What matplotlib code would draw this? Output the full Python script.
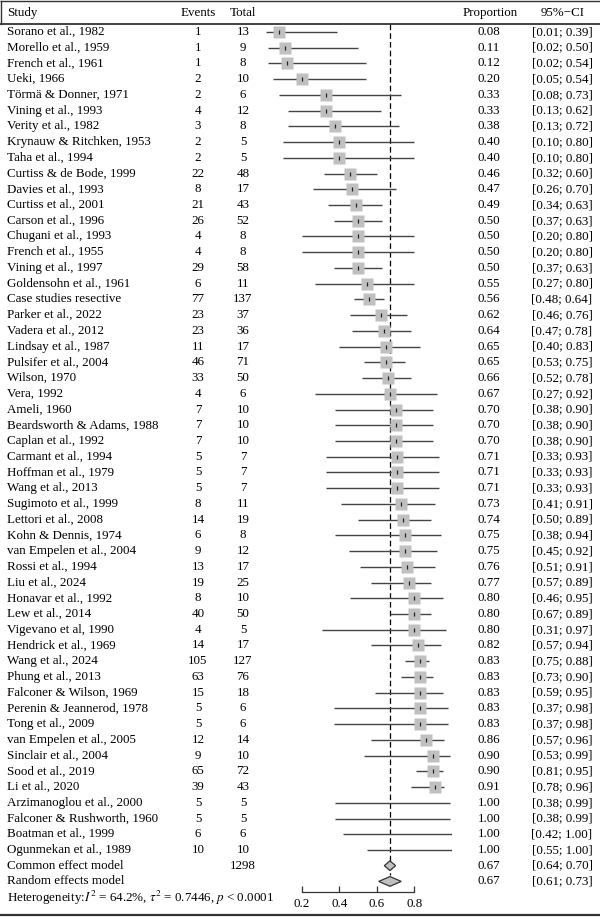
import matplotlib
matplotlib.use("Agg")
import matplotlib.pyplot as plt
from matplotlib.patches import Polygon
import matplotlib.transforms as mtransforms

plt.rcParams['font.family'] = ['Liberation Serif', 'DejaVu Serif']
plt.rcParams['mathtext.fontset'] = 'stix'

studies = ["Sorano et al., 1982", "Morello et al., 1959", "French et al., 1961", "Ueki, 1966",
           "Törmä & Donner, 1971", "Vining et al., 1993", "Verity et al., 1982",
           "Krynauw & Ritchken, 1953", "Taha et al., 1994", "Curtiss & de Bode, 1999",
           "Davies et al., 1993", "Curtiss et al., 2001", "Carson et al., 1996",
           "Chugani et al., 1993", "French et al., 1955", "Vining et al., 1997",
           "Goldensohn et al., 1961", "Case studies resective", "Parker et al., 2022",
           "Vadera et al., 2012", "Lindsay et al., 1987", "Pulsifer et al., 2004",
           "Wilson, 1970", "Vera, 1992", "Ameli, 1960", "Beardsworth & Adams, 1988",
           "Caplan et al., 1992", "Carmant et al., 1994", "Hoffman et al., 1979",
           "Wang et al., 2013", "Sugimoto et al., 1999", "Lettori et al., 2008",
           "Kohn & Dennis, 1974", "van Empelen et al., 2004", "Rossi et al., 1994",
           "Liu et al., 2024", "Honavar et al., 1992", "Lew et al., 2014",
           "Vigevano et al, 1990", "Hendrick et al., 1969", "Wang et al., 2024",
           "Phung et al., 2013", "Falconer & Wilson, 1969", "Perenin & Jeannerod, 1978",
           "Tong et al., 2009", "van Empelen et al., 2005", "Sinclair et al., 2004",
           "Sood et al., 2019", "Li et al., 2020", "Arzimanoglou et al., 2000",
           "Falconer & Rushworth, 1960", "Boatman et al., 1999", "Ogunmekan et al., 1989"]
events = [1, 1, 1, 2, 2, 4, 3, 2, 2, 22, 8, 21, 26, 4, 4, 29, 6, 77, 23, 23, 11, 46, 33, 4,
          7, 7, 7, 5, 5, 5, 8, 14, 6, 9, 13, 19, 8, 40, 4, 14, 105, 63, 15, 5, 5, 12, 9,
          65, 39, 5, 5, 6, 10]
totals = [13, 9, 8, 10, 6, 12, 8, 5, 5, 48, 17, 43, 52, 8, 8, 58, 11, 137, 37, 36, 17, 71,
          50, 6, 10, 10, 10, 7, 7, 7, 11, 19, 8, 12, 17, 25, 10, 50, 5, 17, 127, 76, 18, 6,
          6, 14, 10, 72, 43, 5, 5, 6, 10]
prop = [0.08, 0.11, 0.12, 0.20, 0.33, 0.33, 0.38, 0.40, 0.40, 0.46, 0.47, 0.49, 0.50, 0.50,
        0.50, 0.50, 0.55, 0.56, 0.62, 0.64, 0.65, 0.65, 0.66, 0.67, 0.70, 0.70, 0.70, 0.71,
        0.71, 0.71, 0.73, 0.74, 0.75, 0.75, 0.76, 0.77, 0.80, 0.80, 0.80, 0.82, 0.83, 0.83,
        0.83, 0.83, 0.83, 0.86, 0.90, 0.90, 0.91, 1.00, 1.00, 1.00, 1.00]
ci_low = [0.01, 0.02, 0.02, 0.05, 0.08, 0.13, 0.13, 0.10, 0.10, 0.32, 0.26, 0.34, 0.37, 0.20,
          0.20, 0.37, 0.27, 0.48, 0.46, 0.47, 0.40, 0.53, 0.52, 0.27, 0.38, 0.38, 0.38, 0.33,
          0.33, 0.33, 0.41, 0.50, 0.38, 0.45, 0.51, 0.57, 0.46, 0.67, 0.31, 0.57, 0.75, 0.73,
          0.59, 0.37, 0.37, 0.57, 0.53, 0.81, 0.78, 0.38, 0.38, 0.42, 0.55]
ci_high = [0.39, 0.50, 0.54, 0.54, 0.73, 0.62, 0.72, 0.80, 0.80, 0.60, 0.70, 0.63, 0.63, 0.80,
           0.80, 0.63, 0.80, 0.64, 0.76, 0.78, 0.83, 0.75, 0.78, 0.92, 0.90, 0.90, 0.90, 0.93,
           0.93, 0.93, 0.91, 0.89, 0.94, 0.92, 0.91, 0.89, 0.95, 0.89, 0.97, 0.94, 0.88, 0.90,
           0.95, 0.98, 0.98, 0.96, 0.99, 0.95, 0.96, 0.99, 0.99, 1.00, 1.00]

models = ["Common effect model", "Random effects model"]
model_total = "1298"
model_est = [0.67, 0.67]
model_low = [0.64, 0.61]
model_high = [0.70, 0.73]
heterogeneity = r"Heterogeneity:$I^2$ = 64.2%, $\tau^2$ = 0.7446, $p$ < 0.0001"
xticks = [0.2, 0.4, 0.6, 0.8]
headers = ["Study", "Events", "Total", "Proportion", "95%\u2212CI"]

W, H, DPI = 600, 924, 100
fig = plt.figure(figsize=(W / DPI, H / DPI), dpi=DPI)

row_px = 15.73
y0_px = 32.0
top_data = -y0_px / row_px
bot_data = (H - y0_px) / row_px
x0_px, unit_px = 264.0, 188.0

ax = fig.add_axes([x0_px / W, 0, unit_px / W, 1])
ax.set_xlim(0, 1)
ax.set_ylim(bot_data, top_data)
ax.patch.set_visible(False)

def py(p):
    return (p - y0_px) / row_px

fs = 9.4
trans = mtransforms.blended_transform_factory(fig.transFigure, ax.transData)

n = len(studies)
rows = list(range(n))

# header
hy = py(13)
ax.text(7 / W, hy, headers[0], transform=trans, ha='left', va='center', fontsize=fs)
ax.text(198 / W, hy, headers[1], transform=trans, ha='center', va='center', fontsize=fs)
ax.text(243 / W, hy, headers[2], transform=trans, ha='center', va='center', fontsize=fs)
ax.text(490 / W, hy, headers[3], transform=trans, ha='center', va='center', fontsize=fs)
ax.text(563 / W, hy, headers[4], transform=trans, ha='center', va='center', fontsize=fs)

# frame lines
for ypx, lw in [(0.8, 1.0), (23.5, 1.3), (914.5, 1.6)]:
    ax.plot([0, 1], [py(ypx), py(ypx)], transform=trans, color='#333333', lw=lw,
            clip_on=False, solid_capstyle='butt')
ax.plot([0.8 / W, 0.8 / W], [py(0.8), py(23.5)], transform=trans, color='#333333', lw=1.0,
        clip_on=False)

# reference line
ax.plot([model_est[0], model_est[0]], [py(24), n + 0.6], color='black', lw=0.9,
        ls=(0, (4.5, 2.5)), zorder=1)

for i in rows:
    ax.text(7 / W, i, studies[i], transform=trans, ha='left', va='center', fontsize=fs)
    ax.text(198 / W, i, str(events[i]), transform=trans, ha='center', va='center', fontsize=fs)
    ax.text(243 / W, i, str(totals[i]), transform=trans, ha='center', va='center', fontsize=fs)
    ax.text(489 / W, i, f"{prop[i]:.2f}", transform=trans, ha='center', va='center', fontsize=fs)
    ax.text(562 / W, i, f"[{ci_low[i]:.2f}; {ci_high[i]:.2f}]", transform=trans,
            ha='center', va='center', fontsize=fs)
    ax.plot([ci_low[i], ci_high[i]], [i, i], color='#444444', lw=1.0, zorder=2,
            solid_capstyle='butt')
    if prop[i] < 1.0:
        ax.plot([prop[i]], [i], marker='s', ms=9.3, color='#c0c0c0', mec='none', zorder=3)
        ax.plot([prop[i]], [i], marker='|', ms=3.5, mew=0.9, color='#222222', zorder=4)

# models
for k, name in enumerate(models):
    y = n + k
    ax.text(7 / W, y, name, transform=trans, ha='left', va='center', fontsize=fs)
    if k == 0:
        ax.text(243 / W, y, model_total, transform=trans, ha='center', va='center', fontsize=fs)
    ax.text(489 / W, y, f"{model_est[k]:.2f}", transform=trans, ha='center', va='center', fontsize=fs)
    ax.text(562 / W, y, f"[{model_low[k]:.2f}; {model_high[k]:.2f}]", transform=trans,
            ha='center', va='center', fontsize=fs)
    hh = 0.31
    poly = Polygon([(model_low[k], y), (model_est[k], y - hh), (model_high[k], y),
                    (model_est[k], y + hh)], closed=True, facecolor='#c0c0c0',
                   edgecolor='#333333', lw=0.9, zorder=5)
    ax.add_patch(poly)

ax.text(7 / W, py(898), heterogeneity, transform=trans, ha='left', va='center', fontsize=fs)

# x axis
for s in ['top', 'left', 'right']:
    ax.spines[s].set_visible(False)
ax.spines['bottom'].set_position(('data', py(892)))
ax.spines['bottom'].set_bounds(xticks[0], xticks[-1])
ax.spines['bottom'].set_color('#333333')
ax.spines['bottom'].set_linewidth(0.9)
ax.set_xticks(xticks)
ax.set_xticklabels([f"{t:.1f}" for t in xticks])
ax.tick_params(axis='x', direction='in', length=4, width=0.9, color='#333333',
               labelsize=fs, pad=4)
ax.set_yticks([])

fig.savefig("out.png", dpi=DPI)
